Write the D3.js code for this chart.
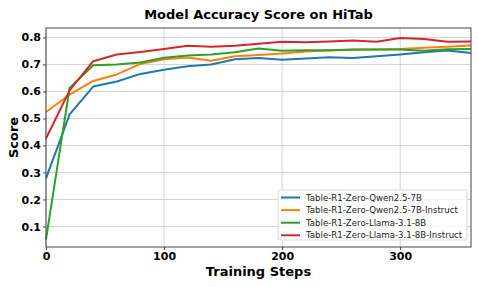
<!DOCTYPE html>
<html>
<head>
<meta charset="utf-8">
<script src="https://cdn.jsdelivr.net/npm/d3@7"></script>
<style>
body { margin: 0; background: #fff; }
text { font-family: "DejaVu Sans", sans-serif; }
</style>
</head>
<body>
<script>
// training steps shared by all series
var steps = [0, 20, 40, 60, 80, 100, 120, 140, 160, 180, 200, 220, 240, 260, 280, 300, 320, 340, 360];

var qwen = [0.278, 0.515, 0.618, 0.637, 0.665, 0.68, 0.693, 0.70, 0.719, 0.724, 0.717, 0.722, 0.727, 0.724, 0.73, 0.737, 0.745, 0.752, 0.742];
var qwenInstruct = [0.524, 0.588, 0.639, 0.663, 0.702, 0.719, 0.726, 0.714, 0.73, 0.735, 0.741, 0.748, 0.752, 0.754, 0.755, 0.757, 0.762, 0.766, 0.77];
var llama = [0.052, 0.613, 0.697, 0.70, 0.707, 0.725, 0.733, 0.737, 0.745, 0.759, 0.751, 0.753, 0.753, 0.755, 0.755, 0.755, 0.751, 0.756, 0.757];
var llamaInstruct = [0.426, 0.604, 0.712, 0.737, 0.746, 0.757, 0.769, 0.766, 0.769, 0.777, 0.784, 0.782, 0.785, 0.789, 0.784, 0.798, 0.794, 0.784, 0.785];

var names = ["Table-R1-Zero-Qwen2.5-7B", "Table-R1-Zero-Qwen2.5-7B-Instruct", "Table-R1-Zero-Llama-3.1-8B", "Table-R1-Zero-Llama-3.1-8B-Instruct"];
var colors = ["#1f77b4", "#ff7f0e", "#2ca02c", "#d62728"];
var xTicks = [0, 100, 200, 300];
var yTicks = [0.1, 0.2, 0.3, 0.4, 0.5, 0.6, 0.7, 0.8];

var series = [qwen, qwenInstruct, llama, llamaInstruct];

var W = 478, H = 287;
var margin = {top: 28, right: 7, bottom: 40, left: 46};

var svg = d3.select("body").append("svg")
    .attr("width", W)
    .attr("height", H);

var x = d3.scaleLinear().domain([0, 360]).range([margin.left, W - margin.right]);
var y = d3.scaleLinear().domain([0.024, 0.835]).range([H - margin.bottom, margin.top]);

// grid
svg.append("g").selectAll("line").data(xTicks).enter().append("line")
    .attr("x1", d => x(d)).attr("x2", d => x(d))
    .attr("y1", margin.top).attr("y2", H - margin.bottom)
    .attr("stroke", "#c8c8c8").attr("stroke-width", 0.8);
svg.append("g").selectAll("line").data(yTicks).enter().append("line")
    .attr("x1", margin.left).attr("x2", W - margin.right)
    .attr("y1", d => y(d)).attr("y2", d => y(d))
    .attr("stroke", "#c8c8c8").attr("stroke-width", 0.8);

var line = d3.line().x((d, i) => x(steps[i])).y(d => y(d));

svg.append("g").selectAll("path").data(series).enter().append("path")
    .attr("d", d => line(d))
    .attr("fill", "none")
    .attr("stroke", (d, i) => colors[i])
    .attr("stroke-width", 2)
    .attr("stroke-linejoin", "round");

// frame
svg.append("rect")
    .attr("x", margin.left).attr("y", margin.top)
    .attr("width", W - margin.right - margin.left)
    .attr("height", H - margin.bottom - margin.top)
    .attr("fill", "none").attr("stroke", "#444").attr("stroke-width", 1);

var xAxis = svg.append("g")
    .attr("transform", "translate(0," + (H - margin.bottom) + ")")
    .call(d3.axisBottom(x).tickValues(xTicks).tickSize(3).tickPadding(2));
var yAxis = svg.append("g")
    .attr("transform", "translate(" + margin.left + ",0)")
    .call(d3.axisLeft(y).tickValues(yTicks).tickSize(3).tickPadding(2).tickFormat(d3.format(".1f")));
[xAxis, yAxis].forEach(function(a) {
    a.select(".domain").remove();
    a.selectAll("line").attr("stroke", "#444");
    a.selectAll("text").attr("font-family", "DejaVu Sans").attr("font-size", 11)
        .attr("font-weight", "bold").attr("fill", "#000");
});

svg.append("text")
    .attr("x", (margin.left + W - margin.right) / 2).attr("y", 19)
    .attr("text-anchor", "middle").attr("font-size", 13).attr("font-weight", "bold")
    .text("Model Accuracy Score on HiTab");

svg.append("text")
    .attr("x", (margin.left + W - margin.right) / 2).attr("y", 276)
    .attr("text-anchor", "middle").attr("font-size", 13).attr("font-weight", "bold")
    .text("Training Steps");

svg.append("text")
    .attr("transform", "translate(18," + ((margin.top + H - margin.bottom) / 2) + ") rotate(-90)")
    .attr("text-anchor", "middle").attr("font-size", 13).attr("font-weight", "bold")
    .text("Score");

// legend
var lg = svg.append("g").attr("transform", "translate(278,190)");
lg.append("rect")
    .attr("width", 189).attr("height", 50).attr("rx", 2)
    .attr("fill", "#fff").attr("fill-opacity", 0.85)
    .attr("stroke", "#d0d0d0").attr("stroke-width", 0.8);
var items = lg.selectAll("g.item").data(names).enter().append("g")
    .attr("transform", (d, i) => "translate(0," + (7.5 + i * 12.6) + ")");
items.append("line")
    .attr("x1", 3).attr("x2", 22)
    .attr("stroke", (d, i) => colors[i]).attr("stroke-width", 2);
items.append("text")
    .attr("x", 28).attr("dy", "0.35em")
    .attr("font-size", 8.6).attr("fill", "#222")
    .text(d => d);
</script>
</body>
</html>
